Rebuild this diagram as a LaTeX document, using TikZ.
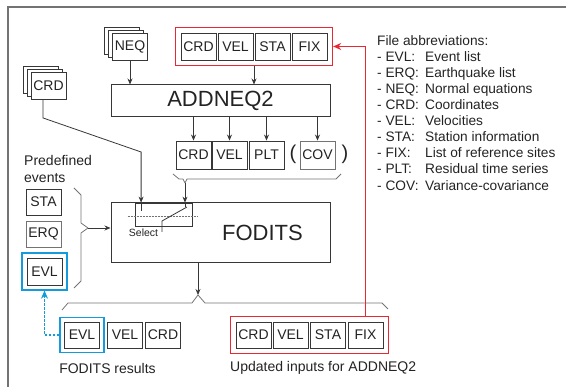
\documentclass[tikz,border=0pt]{standalone}
\usepackage{fontspec}
\setmainfont{Liberation Sans}
\usetikzlibrary{arrows.meta,positioning,fit,shadows,calc}
\definecolor{BoxGray}{RGB}{55,55,55}
\definecolor{LightGray}{RGB}{115,115,115}
\definecolor{TextGray}{RGB}{35,35,35}
\definecolor{FrameRed}{RGB}{232,40,50}
\definecolor{FrameBlue}{RGB}{20,155,220}
\newcommand{\abbrline}[2]{\makebox[48pt][l]{- #1:}#2}

\begin{document}
\begin{tikzpicture}[x=1pt,y=-1pt,
    file/.style={draw=BoxGray,fill=white,line width=0.9pt,inner sep=0pt,
                 minimum width=35pt,minimum height=26pt,
                 font=\fontsize{14}{14}\selectfont,text=TextGray},
    lightfile/.style={file,draw=LightGray},
    stack/.style={file,minimum height=27pt,
                  double copy shadow={shadow xshift=-4pt,shadow yshift=3pt,
                                      draw=BoxGray,line width=0.9pt}},
    prog/.style={draw=BoxGray,line width=1pt,inner sep=0pt,minimum width=219pt,
                 font=\fontsize{22}{22}\selectfont,text=TextGray},
    redframe/.style={draw=FrameRed,line width=1.4pt,inner sep=5pt},
    blueframe/.style={draw=FrameBlue,line width=1.4pt,inner sep=4pt},
    txt/.style={font=\fontsize{14}{14}\selectfont,text=TextGray,inner sep=0pt},
    arrow/.style={-{Stealth[length=6pt,width=5pt]},line width=0.8pt,BoxGray},
    rarrow/.style={-{Stealth[length=8pt,width=7pt]},line width=1.2pt,FrameRed},
    barrow/.style={-{Stealth[length=8pt,width=7pt]},line width=1.2pt,FrameBlue,
                   dash pattern=on 2.5pt off 1.5pt},
    brace/.style={line width=0.8pt,LightGray,line join=round}]

    \useasboundingbox (0,0) rectangle (566,387);
    \draw[LightGray,line width=1.2pt] (566,7) -- (8,7) -- (8,387);

    % ADDNEQ2 inputs
    \node[stack] (neq) at (130,47) {NEQ};
    \foreach \f/\x in {CRD/198.5,VEL/235.5,STA/272.5,FIX/309.5}
      \node[file,minimum height=27pt] (i\f) at (\x,46.5) {\f};
    \node[redframe,fit=(iCRD)(iFIX)] (inTop) {};

    \node[prog,minimum height=32pt] (addneq) at (220.5,101) {ADDNEQ2};
    \draw[arrow] (neq) -- (neq |- addneq.north);
    \draw[arrow] (inTop) -- (inTop |- addneq.north);

    % ADDNEQ2 outputs
    \foreach \f/\x in {CRD/193.5,VEL/229.5,PLT/266.5}
      \node[file,minimum height=28pt] (o\f) at (\x,155) {\f};
    \node[lightfile,minimum height=28pt] (oCOV) at (317.5,155) {COV};
    \node[txt,font=\fontsize{20}{20}\selectfont] (lpar) at (293,154) {(};
    \node[txt,font=\fontsize{20}{20}\selectfont] (rpar) at (345,154) {)};
    \foreach \f in {CRD,VEL,PLT,COV}
      \draw[arrow] (addneq.south -| o\f) -- (o\f);

    \coordinate (oTip) at (185,183);
    \draw[brace] (173,174) -- (179,179) -- (183,179) -- (oTip) -- (187,179)
                 -- (336,179) -- (341,174);

    % FODITS
    \node[stack] (crd) at (48.5,86) {CRD};
    \node[prog,minimum height=60pt] (fodits) at (220.5,233) {};
    \node[prog,minimum width=0pt,draw=none] (foditsLbl) at (262.5,233) {FODITS};
    \node[draw=BoxGray,line width=0.8pt,inner sep=0pt,
          minimum width=57pt,minimum height=23pt] (sel) at (163.5,214.5) {};
    \node[txt,font=\fontsize{10.5}{10.5}\selectfont] (selLbl) at (143.5,233) {Select};
    \draw[LightGray,line width=0.6pt,dash pattern=on 2pt off 1pt]
         ([xshift=-7pt,yshift=-1.5pt]sel.west) -- ([xshift=5pt,yshift=-1.5pt]sel.east);
    \draw[BoxGray,line width=0.8pt] (162,232) -- (162,221) -- (187,207);

    \coordinate (selIn) at ([xshift=6.5pt]sel.north west);
    \draw[arrow] ([xshift=-5.5pt]crd.south) -- ++(0,18) -- (selIn |- 0,152) -- (selIn);
    \draw[BoxGray,line width=0.8pt] (selIn) -- ++(0,8);
    \draw[arrow] (oTip) -- (oTip |- sel.north);
    \draw[BoxGray,line width=0.8pt] (oTip |- sel.north) -- ++(0,4);

    % predefined events
    \node[txt,align=left,anchor=west,font=\fontsize{14}{17}\selectfont]
         (predef) at (24,168.5) {Predefined\\events};
    \node[file] (pSTA) at (43.5,202) {STA};
    \node[lightfile] (pERQ) at (43.5,234) {ERQ};
    \node[file,minimum height=27pt] (pEVL) at (44.5,271.5) {EVL};
    \node[blueframe,inner sep=4.5pt,fit=(pEVL)] (evlFrame) {};

    \coordinate (lTip) at (88,228);
    \draw[brace] (74,188) -- (81,195) -- (81,223) -- (lTip) -- (81,233)
                 -- (81,281) -- (74,288);
    \draw[arrow] (lTip) -- (lTip -| fodits.west);

    % FODITS outputs
    \coordinate (fTip) at (198,295);
    \draw[arrow] (fodits.south -| fTip) -- (fTip);
    \draw[brace] (62,310) -- (68,303) -- (192,303) -- (fTip) -- (205,303)
                 -- (382,303) -- (388,309);

    \node[file] (rEVL) at (82,335) {EVL};
    \node[file] (rVEL) at (125,335) {VEL};
    \node[file] (rCRD) at (163,335) {CRD};
    \node[blueframe,fit=(rEVL)] (resFrame) {};
    \node[txt] (resLbl) at (107.5,368) {FODITS results};

    \foreach \f/\x in {CRD/253.5,VEL/290.5,STA/328,FIX/365.5}
      \node[file] (u\f) at (\x,335) {\f};
    \node[redframe,fit=(uCRD)(uFIX)] (updFrame) {};
    \node[txt,anchor=west] (updLbl) at (230,368) {Updated inputs for ADDNEQ2};

    \draw[barrow] (resFrame.west) -| (evlFrame.south);
    \draw[rarrow] (updFrame.north -| uFIX) |- (inTop.east);

    % legend
    \node[txt,align=left,anchor=north west,font=\fontsize{13.7}{16.1}\selectfont]
         (legend) at (377,35)
         {File abbreviations:\\
          \abbrline{EVL}{Event list}\\
          \abbrline{ERQ}{Earthquake list}\\
          \abbrline{NEQ}{Normal equations}\\
          \abbrline{CRD}{Coordinates}\\
          \abbrline{VEL}{Velocities}\\
          \abbrline{STA}{Station information}\\
          \abbrline{FIX}{List of reference sites}\\
          \abbrline{PLT}{Residual time series}\\
          \abbrline{COV}{Variance-covariance}};
\end{tikzpicture}
\end{document}
